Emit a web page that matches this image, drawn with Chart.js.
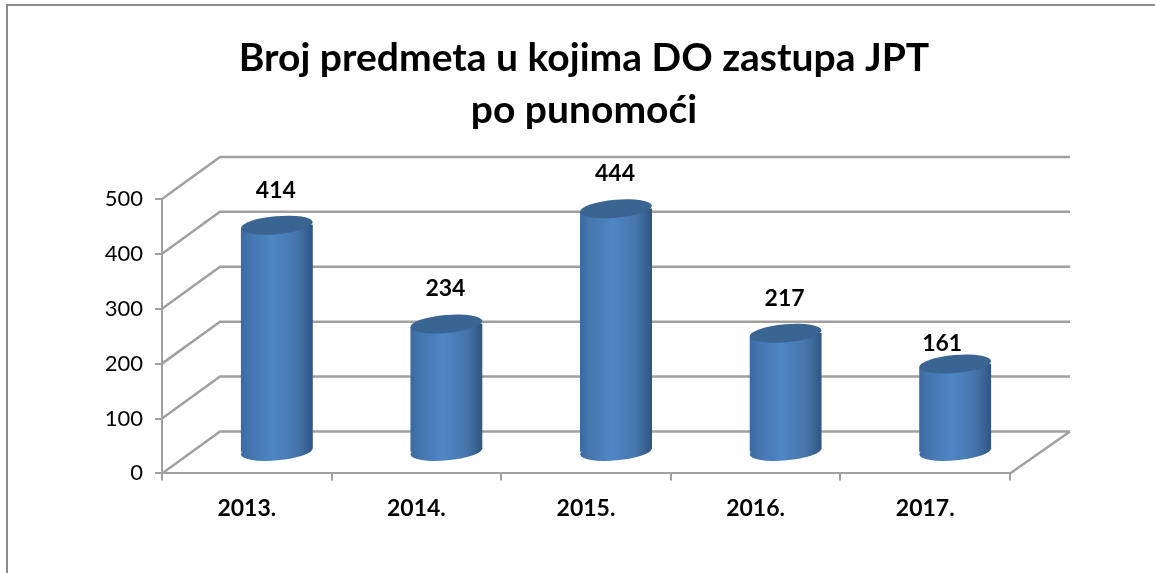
<!DOCTYPE html>
<html>
<head>
<meta charset="utf-8">
<title>Broj predmeta</title>
<script src="https://cdn.jsdelivr.net/npm/chart.js@4/dist/chart.umd.min.js"></script>
<style>
  html, body { margin: 0; padding: 0; background: #fff; overflow: hidden; }
  #frame { position: absolute; left: 6px; top: 4px; width: 1149px; height: 569px; border-left: 2px solid #8c8c8c; border-top: 2px solid #8c8c8c; box-sizing: border-box; }
  #wrap { position: absolute; left: 0; top: 0; width: 1155px; height: 573px; }
</style>
</head>
<body>
<div id="frame"></div>
<div id="wrap"><canvas id="chart" width="1155" height="573"></canvas></div>
<script>
const titleLines = ['Broj predmeta u kojima DO zastupa JPT', 'po punomoći'];
const years = ['2013.', '2014.', '2015.', '2016.', '2017.'];
const cases = [414, 234, 444, 217, 161];
const yTicks = [0, 100, 200, 300, 400, 500];

const FONT = 'Lato, Carlito, sans-serif';
const GRID = '#a0a0a0';
// depth of the fake 3d box, in pixels
const DEPTH_X = 58, DEPTH_Y = 42;
// bars stand in the middle of the floor
const BAR_X = 30, BAR_Y = -21;
const BAR_W = 72, CAP_RY = 9, TILT = -5 * Math.PI / 180;
const TIP = Math.sin(-TILT) * BAR_W / 2;

function barGradient(ctx, cx) {
  const g = ctx.createLinearGradient(cx - BAR_W / 2, 0, cx + BAR_W / 2, 0);
  g.addColorStop(0, '#3a6aa0');
  g.addColorStop(0.12, '#4475ad');
  g.addColorStop(0.45, '#4f86c6');
  g.addColorStop(0.78, '#4675ab');
  g.addColorStop(1, '#2f5583');
  return g;
}

function ellipse(ctx, x, y, fill) {
  ctx.beginPath();
  ctx.ellipse(x, y, BAR_W / 2, CAP_RY, TILT, 0, Math.PI * 2);
  ctx.fillStyle = fill;
  ctx.fill();
}

const box3d = {
  id: 'box3d',
  afterLayout(chart) {
    // title sits a bit right of the canvas middle
    chart.titleBlock.left = 13;
    chart.titleBlock.right = 1155;
  },
  beforeDatasetsDraw(chart) {
    const { ctx, scales: { x, y } } = chart;
    ctx.save();
    ctx.strokeStyle = GRID;
    ctx.lineWidth = 2.5;
    yTicks.forEach(v => {
      const py = y.getPixelForValue(v);
      ctx.beginPath();
      ctx.moveTo(x.left, py);
      ctx.lineTo(x.left + DEPTH_X, py - DEPTH_Y);
      ctx.lineTo(x.right + DEPTH_X + 2, py - DEPTH_Y);
      ctx.stroke();
    });
    const py0 = y.getPixelForValue(0);
    ctx.beginPath();
    ctx.moveTo(x.right, py0);
    ctx.lineTo(x.right + DEPTH_X + 2, py0 - DEPTH_Y);
    ctx.stroke();
    ctx.restore();
  },
  beforeDatasetDraw(chart, args) {
    const { ctx } = chart;
    const bars = args.meta.data;
    ctx.save();
    ctx.translate(BAR_X, BAR_Y);
    bars.forEach(bar => {
      ellipse(ctx, bar.x, bar.base, barGradient(ctx, bar.x));
    });
    // cut the bar corners along the tilt of the ellipses
    ctx.save();
    ctx.beginPath();
    bars.forEach(bar => {
      const l = bar.x - BAR_W / 2, r = bar.x + BAR_W / 2;
      ctx.moveTo(l, bar.y + TIP);
      ctx.lineTo(r, bar.y - TIP);
      ctx.lineTo(r, bar.base - TIP);
      ctx.lineTo(l, bar.base + TIP);
      ctx.closePath();
    });
    ctx.clip();
  },
  afterDatasetDraw(chart, args) {
    const { ctx } = chart;
    ctx.restore();
    args.meta.data.forEach(bar => {
      ellipse(ctx, bar.x, bar.y, '#3a6491');
    });
    ctx.restore();
    // value labels
    ctx.save();
    ctx.fillStyle = '#000';
    ctx.font = 'bold 23px ' + FONT;
    ctx.textAlign = 'center';
    ctx.textBaseline = 'middle';
    args.meta.data.forEach((bar, i) => {
      const low = cases[i] < 200;
      ctx.fillText(cases[i], bar.x + BAR_X + (low ? -13 : -1), bar.y + BAR_Y + (low ? -20 : -35));
    });
    ctx.restore();
  }
};

new Chart(document.getElementById('chart'), {
  type: 'bar',
  data: {
    labels: years,
    datasets: [{
      data: cases,
      barThickness: BAR_W,
      borderWidth: 0,
      backgroundColor: c => {
        const px = c.chart.scales.x ? c.chart.scales.x.getPixelForValue(c.dataIndex) : NaN;
        return Number.isFinite(px) ? barGradient(c.chart.ctx, px) : '#4f86c6';
      }
    }]
  },
  options: {
    responsive: false,
    animation: false,
    layout: { padding: { left: 0, right: 145, top: 0, bottom: 37 } },
    plugins: {
      legend: { display: false },
      tooltip: { enabled: false },
      title: {
        display: true,
        text: titleLines,
        color: '#000',
        font: { family: FONT, size: 39, weight: 'bold', lineHeight: 1.333 },
        padding: { top: 32, bottom: 63 }
      }
    },
    scales: {
      x: {
        offset: true,
        grid: { offset: true, drawOnChartArea: false, color: GRID, lineWidth: 2, tickLength: 7 },
        border: { color: GRID, width: 2 },
        ticks: { color: '#000', padding: 14, font: { family: FONT, size: 23, weight: 'bold' } }
      },
      y: {
        min: 0,
        max: 500,
        afterFit: s => { s.width = 162; },
        grid: { drawOnChartArea: false, color: GRID, lineWidth: 2, tickLength: 7 },
        border: { color: GRID, width: 2 },
        ticks: { color: '#000', padding: 12, stepSize: 100, font: { family: FONT, size: 22 } }
      }
    }
  },
  plugins: [box3d]
});
</script>
</body>
</html>
